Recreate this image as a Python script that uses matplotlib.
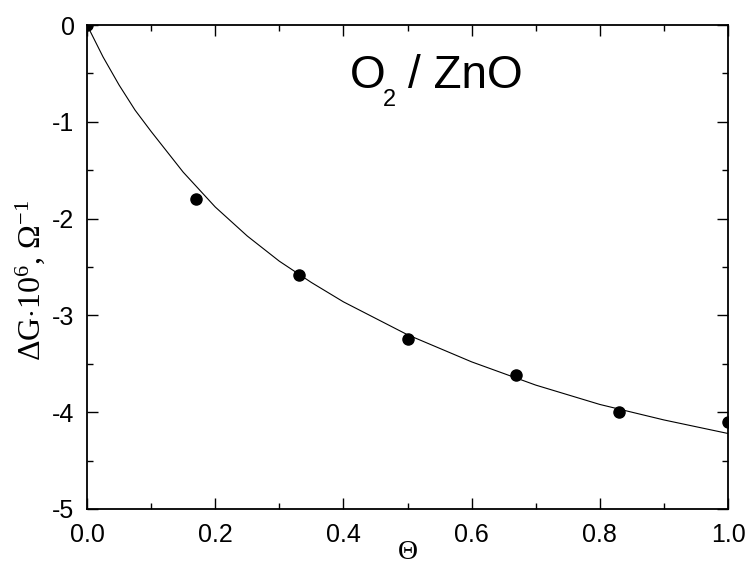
import numpy as np
import matplotlib
matplotlib.use("Agg")
import matplotlib.pyplot as plt
from matplotlib.ticker import MultipleLocator

plt.rcParams['font.family'] = ['Liberation Sans', 'DejaVu Sans']
plt.rcParams['mathtext.fontset'] = 'custom'
plt.rcParams['mathtext.rm'] = 'Liberation Serif'
plt.rcParams['mathtext.it'] = 'Liberation Serif:italic'
plt.rcParams['mathtext.sf'] = 'Liberation Sans'

# measured points
theta_pts = [0.0, 0.17, 0.33, 0.50, 0.67, 0.83, 1.00]
dg_pts = [0.0, -1.80, -2.58, -3.24, -3.62, -4.00, -4.10]

# fitted curve
theta_fit = [0.0, 0.025, 0.05, 0.075, 0.10, 0.15, 0.20, 0.25, 0.30, 0.35,
             0.40, 0.50, 0.60, 0.70, 0.80, 0.90, 1.00]
dg_fit = [0.0, -0.33, -0.62, -0.88, -1.10, -1.52, -1.88, -2.18, -2.44, -2.66,
          -2.86, -3.20, -3.48, -3.72, -3.92, -4.08, -4.22]

fig = plt.figure(figsize=(7.49, 5.67), dpi=100)
ax = fig.add_axes([0.1162, 0.1023, 0.8558, 0.8536])

ax.plot(theta_fit, dg_fit, color='black', linewidth=0.8)
ax.plot(theta_pts, dg_pts, 'o', color='black', markersize=8)

ax.set_xlim(0, 1.0)
ax.set_ylim(-5, 0)
ax.xaxis.set_minor_locator(MultipleLocator(0.1))
ax.yaxis.set_minor_locator(MultipleLocator(0.5))
ax.set_xticks([0, 0.2, 0.4, 0.6, 0.8, 1.0], ['0.0', '0.2', '0.4', '0.6', '0.8', '1.0'])
ax.set_yticks([0, -1, -2, -3, -4, -5], ['0', '-1', '-2', '-3', '-4', '-5'])

ax.tick_params(which='both', direction='in', top=True, right=True,
               labelsize=18, width=1.0)
ax.tick_params(axis='x', pad=10)
ax.tick_params(axis='y', pad=9)
ax.tick_params(which='major', length=8)
ax.tick_params(which='minor', length=4)
for s in ax.spines.values():
    s.set_linewidth(1.3)

ax.set_xlabel('Θ', fontsize=20, family='Liberation Serif')
ax.xaxis.set_label_coords(0.50, -0.064)
ax.set_ylabel('ΔG$\\cdot$10$^{6}$, Ω$^{-1}$', fontsize=23, family='Liberation Serif')
ax.yaxis.set_label_coords(-0.062, 0.473)

# title inside plot: O2 / ZnO
ax.text(0.410, 0.870, 'O', transform=ax.transAxes, fontsize=33,
        ha='left', va='baseline')
ax.text(0.462, 0.833, '2', transform=ax.transAxes, fontsize=17,
        ha='left', va='baseline')
ax.text(0.501, 0.870, '/ ZnO', transform=ax.transAxes, fontsize=33,
        ha='left', va='baseline')

fig.savefig('out.png', dpi=100)
